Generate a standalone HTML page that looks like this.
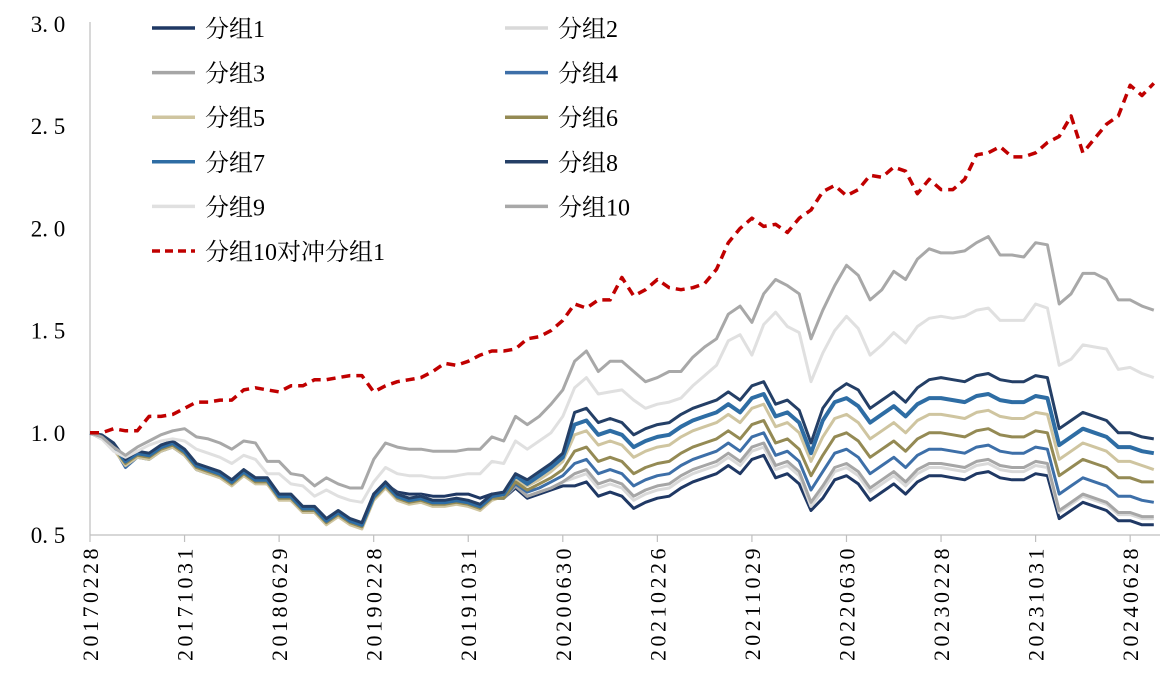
<!DOCTYPE html>
<html><head><meta charset="utf-8"><style>
html,body{margin:0;padding:0;background:#fff;}
svg{display:block;font-family:"Liberation Serif","Noto Serif CJK SC",serif;}
</style></head><body>
<svg id="chart" width="1173" height="678" viewBox="0 0 1173 678"></svg>
<script>
const categories = ["20170228","20171031","20180629","20190228","20191031","20200630","20210226","20211029","20220630","20230228","20231031","20240628"];
const yTicks = [0.5,1.0,1.5,2.0,2.5,3.0];
const yTickLabels = ["0. 5","1. 0","1. 5","2. 0","2. 5","3. 0"];
const seriesNames = ["分组1","分组2","分组3","分组4","分组5","分组6","分组7","分组8","分组9","分组10","分组10对冲分组1"];
const g1 = [1.00,0.98,0.93,0.85,0.89,0.88,0.92,0.94,0.90,0.83,0.81,0.79,0.75,0.80,0.76,0.76,0.68,0.68,0.62,0.62,0.56,0.60,0.56,0.54,0.70,0.75,0.71,0.70,0.70,0.69,0.69,0.70,0.70,0.68,0.70,0.68,0.73,0.68,0.70,0.72,0.74,0.74,0.76,0.69,0.71,0.69,0.63,0.66,0.68,0.69,0.73,0.76,0.78,0.80,0.84,0.80,0.87,0.89,0.78,0.80,0.75,0.62,0.68,0.77,0.79,0.75,0.67,0.71,0.75,0.70,0.76,0.79,0.79,0.78,0.77,0.80,0.81,0.78,0.77,0.77,0.80,0.79,0.58,0.62,0.66,0.64,0.62,0.57,0.57,0.55,0.55];
const g2 = [1.00,0.98,0.95,0.87,0.91,0.90,0.94,0.96,0.92,0.85,0.83,0.81,0.77,0.82,0.78,0.78,0.70,0.70,0.64,0.64,0.58,0.62,0.58,0.56,0.70,0.76,0.70,0.68,0.69,0.67,0.67,0.68,0.67,0.65,0.69,0.68,0.74,0.69,0.71,0.73,0.76,0.78,0.80,0.73,0.75,0.73,0.67,0.70,0.72,0.73,0.77,0.80,0.82,0.84,0.88,0.84,0.91,0.93,0.82,0.84,0.79,0.64,0.72,0.81,0.83,0.79,0.71,0.75,0.79,0.74,0.80,0.83,0.83,0.82,0.81,0.84,0.85,0.82,0.81,0.81,0.84,0.83,0.61,0.65,0.69,0.67,0.65,0.60,0.60,0.58,0.58];
const g3 = [1.00,0.98,0.94,0.86,0.90,0.89,0.92,0.94,0.90,0.84,0.82,0.80,0.76,0.80,0.77,0.76,0.69,0.68,0.63,0.62,0.57,0.60,0.57,0.55,0.69,0.74,0.69,0.67,0.67,0.66,0.66,0.67,0.66,0.64,0.68,0.68,0.74,0.69,0.71,0.73,0.76,0.80,0.82,0.75,0.77,0.75,0.69,0.72,0.74,0.75,0.79,0.82,0.84,0.86,0.90,0.86,0.93,0.95,0.84,0.86,0.81,0.66,0.74,0.83,0.85,0.81,0.73,0.77,0.81,0.76,0.82,0.85,0.85,0.84,0.83,0.86,0.87,0.84,0.83,0.83,0.86,0.85,0.62,0.66,0.70,0.68,0.66,0.61,0.61,0.59,0.59];
const g4 = [1.00,0.97,0.93,0.83,0.88,0.87,0.91,0.93,0.89,0.82,0.80,0.79,0.75,0.79,0.76,0.75,0.68,0.67,0.62,0.61,0.56,0.59,0.56,0.54,0.69,0.73,0.68,0.67,0.66,0.65,0.66,0.66,0.65,0.64,0.68,0.68,0.75,0.71,0.73,0.76,0.79,0.85,0.87,0.80,0.82,0.80,0.74,0.77,0.79,0.80,0.84,0.87,0.89,0.91,0.95,0.91,0.98,1.00,0.89,0.91,0.86,0.72,0.81,0.90,0.92,0.88,0.80,0.84,0.88,0.83,0.89,0.92,0.92,0.91,0.90,0.93,0.94,0.91,0.90,0.90,0.93,0.92,0.70,0.74,0.78,0.76,0.74,0.69,0.69,0.67,0.66];
const g5 = [1.00,0.97,0.92,0.84,0.88,0.87,0.91,0.93,0.89,0.82,0.80,0.78,0.74,0.79,0.75,0.75,0.67,0.67,0.61,0.61,0.55,0.59,0.55,0.53,0.67,0.73,0.67,0.65,0.66,0.64,0.64,0.65,0.64,0.62,0.67,0.69,0.77,0.74,0.77,0.81,0.86,0.99,1.01,0.94,0.96,0.94,0.88,0.91,0.93,0.94,0.98,1.01,1.03,1.05,1.09,1.05,1.12,1.14,1.03,1.05,1.00,0.86,0.98,1.07,1.09,1.05,0.97,1.01,1.05,1.00,1.06,1.09,1.09,1.08,1.07,1.10,1.11,1.08,1.07,1.07,1.10,1.09,0.87,0.91,0.95,0.93,0.91,0.86,0.86,0.84,0.82];
const g6 = [1.00,0.98,0.93,0.85,0.89,0.88,0.92,0.94,0.90,0.83,0.81,0.79,0.75,0.80,0.76,0.76,0.68,0.68,0.62,0.62,0.56,0.60,0.56,0.54,0.68,0.74,0.68,0.66,0.67,0.65,0.65,0.66,0.65,0.63,0.68,0.68,0.76,0.72,0.75,0.78,0.82,0.91,0.93,0.86,0.88,0.86,0.80,0.83,0.85,0.86,0.90,0.93,0.95,0.97,1.01,0.97,1.04,1.06,0.95,0.97,0.92,0.79,0.89,0.98,1.00,0.96,0.88,0.92,0.96,0.91,0.97,1.00,1.00,0.99,0.98,1.01,1.02,0.99,0.98,0.98,1.01,1.00,0.79,0.83,0.87,0.85,0.83,0.78,0.78,0.76,0.76];
const g7 = [1.00,0.98,0.94,0.86,0.90,0.89,0.93,0.95,0.91,0.84,0.82,0.80,0.76,0.81,0.77,0.77,0.69,0.69,0.63,0.63,0.57,0.61,0.57,0.55,0.69,0.75,0.69,0.67,0.68,0.66,0.66,0.67,0.66,0.64,0.69,0.70,0.79,0.75,0.79,0.83,0.88,1.04,1.06,0.99,1.01,0.99,0.93,0.96,0.98,0.99,1.03,1.06,1.08,1.10,1.14,1.10,1.17,1.19,1.08,1.10,1.05,0.90,1.06,1.15,1.17,1.13,1.05,1.09,1.13,1.08,1.14,1.17,1.17,1.16,1.15,1.18,1.19,1.16,1.15,1.15,1.18,1.17,0.94,0.98,1.02,1.00,0.98,0.93,0.93,0.91,0.90];
const g8 = [1.00,0.99,0.95,0.87,0.91,0.90,0.94,0.96,0.92,0.85,0.83,0.81,0.77,0.82,0.78,0.78,0.70,0.70,0.64,0.64,0.58,0.62,0.58,0.56,0.70,0.76,0.70,0.68,0.69,0.67,0.67,0.68,0.67,0.65,0.70,0.71,0.80,0.77,0.81,0.85,0.90,1.10,1.12,1.05,1.07,1.05,0.99,1.02,1.04,1.05,1.09,1.12,1.14,1.16,1.20,1.16,1.23,1.25,1.14,1.16,1.11,0.95,1.12,1.20,1.24,1.21,1.12,1.16,1.20,1.15,1.22,1.26,1.27,1.26,1.25,1.28,1.29,1.26,1.25,1.25,1.28,1.27,1.02,1.06,1.10,1.08,1.06,1.00,1.00,0.98,0.97];
const g9 = [1.00,0.97,0.91,0.88,0.91,0.94,0.96,0.97,0.96,0.92,0.90,0.88,0.85,0.89,0.87,0.80,0.80,0.75,0.74,0.69,0.72,0.69,0.67,0.66,0.76,0.83,0.80,0.79,0.79,0.78,0.78,0.79,0.80,0.80,0.86,0.85,0.96,0.92,0.96,1.00,1.08,1.22,1.27,1.19,1.20,1.21,1.16,1.12,1.14,1.15,1.17,1.23,1.28,1.33,1.45,1.48,1.38,1.53,1.59,1.52,1.49,1.25,1.39,1.50,1.57,1.51,1.38,1.43,1.49,1.44,1.52,1.56,1.57,1.56,1.57,1.60,1.61,1.55,1.55,1.55,1.63,1.61,1.33,1.36,1.43,1.42,1.41,1.31,1.32,1.29,1.27];
const g10 = [1.00,0.98,0.93,0.89,0.93,0.96,0.99,1.01,1.02,0.98,0.97,0.95,0.92,0.96,0.95,0.86,0.86,0.80,0.79,0.74,0.78,0.75,0.73,0.73,0.87,0.95,0.93,0.92,0.92,0.91,0.91,0.91,0.92,0.92,0.98,0.96,1.08,1.04,1.08,1.14,1.21,1.35,1.40,1.30,1.35,1.35,1.30,1.25,1.27,1.30,1.30,1.37,1.42,1.46,1.58,1.62,1.54,1.68,1.75,1.72,1.68,1.46,1.60,1.72,1.82,1.77,1.65,1.70,1.79,1.75,1.85,1.90,1.88,1.88,1.89,1.93,1.96,1.87,1.87,1.86,1.93,1.92,1.63,1.68,1.78,1.78,1.75,1.65,1.65,1.62,1.60];
const hedge = [1.00,1.00,1.02,1.01,1.01,1.08,1.08,1.09,1.12,1.15,1.15,1.16,1.16,1.21,1.22,1.21,1.20,1.23,1.23,1.26,1.26,1.27,1.28,1.28,1.20,1.23,1.25,1.26,1.27,1.30,1.34,1.33,1.35,1.38,1.40,1.40,1.41,1.46,1.47,1.50,1.55,1.63,1.61,1.65,1.65,1.76,1.67,1.70,1.75,1.71,1.70,1.71,1.73,1.80,1.93,2.00,2.05,2.01,2.02,1.98,2.05,2.09,2.18,2.21,2.16,2.19,2.26,2.25,2.30,2.28,2.17,2.24,2.19,2.19,2.24,2.36,2.37,2.40,2.35,2.35,2.37,2.42,2.45,2.55,2.37,2.44,2.51,2.55,2.70,2.65,2.71];

const svg = document.getElementById('chart');
const NS = 'http://www.w3.org/2000/svg';
const X0 = 90, STEP = 11.82, Y0 = 535, YPX = 204.4;
function xs(i){ return X0 + i*STEP; }
function ys(v){ return Y0 - (v-0.5)*YPX; }
function mk(tag, attrs){ const e=document.createElementNS(NS,tag); for(const k in attrs) e.setAttribute(k,attrs[k]); svg.appendChild(e); return e; }

const ya = mk('line',{x1:X0,y1:22,x2:X0,y2:Y0,stroke:'#bfbfbf','stroke-width':1.2});


const xa = mk('line',{x1:X0,y1:Y0,x2:1160,y2:Y0,stroke:'#bfbfbf','stroke-width':1.2});



yTicks.forEach((v,k)=>{
  const t = mk('text',{x:48,y:ys(v)+8,'font-size':23,'text-anchor':'middle',fill:'#000'});
  t.textContent = yTickLabels[k];
  
  
});
categories.forEach((c,k)=>{
  const x = xs(k*8);
  const tk = mk('line',{x1:x,y1:Y0,x2:x,y2:Y0+7,stroke:'#bfbfbf','stroke-width':1.2});
  
  
  const t = mk('text',{x:0,y:0,'font-size':22,'letter-spacing':'3.5','text-anchor':'end',fill:'#000',transform:`translate(${x+8},${Y0+10}) rotate(-90)`});
  t.textContent = c;
  
  
});

const allSeries = [g1,g2,g3,g4,g5,g6,g7,g8,g9,g10,hedge];
const colors = ['#1f3864','#d9d9d9','#a6a6a6','#3d6fa8','#cfc5a0','#948a54','#2e6da4','#243f66','#e0e0e0','#a8a8a8','#c00000'];
const widths = [3,3,3,3,3,3,4,3,3,3,3.5];
const keys = ['g1','g2','g3','g4','g5','g6','g7','g8','g9','g10','hedge'];
allSeries.forEach((s,k)=>{
  const d = s.map((v,i)=>(i?'L':'M')+xs(i).toFixed(1)+','+ys(v).toFixed(1)).join(' ');
  const p = mk('path',{d:d,fill:'none',stroke:colors[k],'stroke-width':widths[k],'stroke-linejoin':'round'});
  if(k===10) p.setAttribute('stroke-dasharray','9,6');
  
  
});

seriesNames.forEach((n,k)=>{
  const col = k===10 ? 0 : k%2;
  const row = Math.floor(k/2);
  const lx = col ? 505 : 152, ly = 28 + row*44.6;
  const l = mk('line',{x1:lx,y1:ly,x2:lx+43,y2:ly,stroke:colors[k],'stroke-width':3.5});
  if(k===10) l.setAttribute('stroke-dasharray','8,5');
  
  
  const t = mk('text',{x:lx+53,y:ly+9,'font-size':24,fill:'#000'});
  t.textContent = n;
  
  
});
</script>
</body></html>
